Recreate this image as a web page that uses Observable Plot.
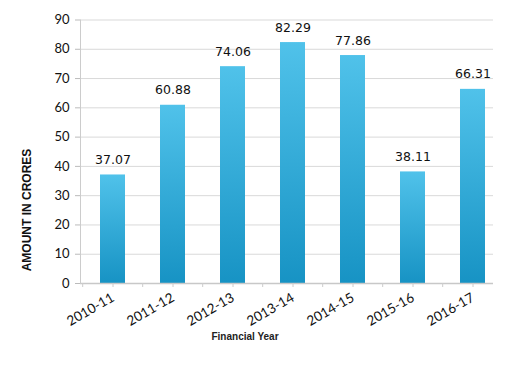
<!DOCTYPE html>
<html>
<head>
<meta charset="utf-8">
<script src="https://cdn.jsdelivr.net/npm/d3@7"></script>
<script src="https://cdn.jsdelivr.net/npm/@observablehq/plot@0.6"></script>
<style>
  html, body { margin: 0; padding: 0; background: #fff; }
  #chart { position: relative; width: 530px; height: 383px; }
  .ylab { position: absolute; left: 27px; top: 210px; transform: translate(-50%, -50%) rotate(-90deg);
          font: bold 12px "Liberation Sans", Arial, sans-serif; color: #111; white-space: nowrap; }
  .xlab { position: absolute; left: 245px; top: 336px; transform: translate(-50%, -50%);
          font: bold 10px "Liberation Sans", Arial, sans-serif; color: #222; white-space: nowrap; }
</style>
</head>
<body>
<div id="chart"></div>
<script>
const years = ["2010-11", "2011-12", "2012-13", "2013-14", "2014-15", "2015-16", "2016-17"];
const amounts = [37.07, 60.88, 74.06, 82.29, 77.86, 38.11, 66.31];
const yTicks = [0, 10, 20, 30, 40, 50, 60, 70, 80, 90];
const yTitle = "AMOUNT IN CRORES";
const xTitle = "Financial Year";

const data = years.map((y, i) => ({year: y, amount: amounts[i]}));

const plot = Plot.plot({
  width: 530,
  height: 383,
  marginLeft: 80,
  marginRight: 26,
  marginTop: 19.5,
  marginBottom: 100,
  style: {fontFamily: "Lato, sans-serif", background: "#fff"},
  x: {domain: years, paddingInner: 0.59, paddingOuter: 0.295},
  y: {domain: [0, 90]},
  marks: [
    Plot.ruleY(yTicks.filter(d => d > 0), {stroke: "#d9d9d9", strokeWidth: 1, insetRight: 11}),
    Plot.barY(data, {x: "year", y: "amount", fill: "url(#barGrad)"}),
    Plot.ruleY([0], {stroke: "#c8c8c8", strokeWidth: 1.5, insetRight: 11}),
    Plot.frame({anchor: "left", stroke: "#cccccc"}),
    Plot.text(data, {x: "year", y: "amount", text: d => d.amount.toFixed(2), dy: -11, lineAnchor: "bottom",
      fontSize: 12.5, fontFamily: "DejaVu Sans", fill: "#111"}),
    Plot.axisY({ticks: yTicks, tickSize: 5, tickPadding: 6, fontSize: 13, stroke: "#bbb", color: "#111", label: null}),
    Plot.axisX({tickSize: 0, tickRotate: -30, tickPadding: 13, fontSize: 13.5, color: "#111", label: null}),
    Plot.axisX({tickSize: 4, text: null, stroke: "#ccc", label: null}),
    Plot.axisX({tickSize: 4, text: null, stroke: "#ccc", label: null, dx: -30.3})
  ]
});

const svg = d3.select(plot);
const defs = svg.insert("defs", ":first-child");
const g = defs.append("linearGradient").attr("id", "barGrad").attr("x1", 0).attr("y1", 0).attr("x2", 0).attr("y2", 1);
g.append("stop").attr("offset", "0%").attr("stop-color", "#50c2ea");
g.append("stop").attr("offset", "100%").attr("stop-color", "#1793c4");

const chart = document.getElementById("chart");
chart.appendChild(plot);
const yl = document.createElement("div"); yl.className = "ylab"; yl.textContent = yTitle; chart.appendChild(yl);
const xl = document.createElement("div"); xl.className = "xlab"; xl.textContent = xTitle; chart.appendChild(xl);
</script>
</body>
</html>
